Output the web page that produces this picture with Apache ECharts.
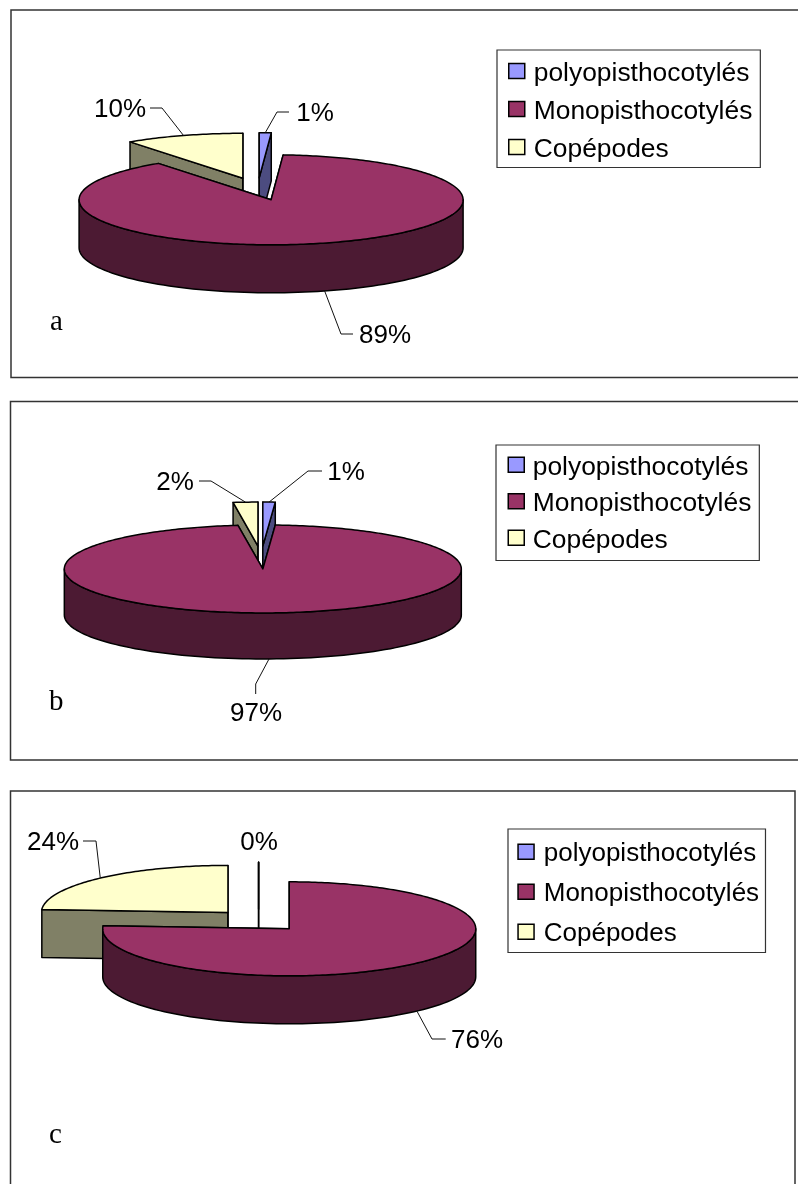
<!DOCTYPE html>
<html>
<head>
<meta charset="utf-8">
<style>html,body{margin:0;padding:0;background:#fff}#chart{width:798px;height:1184px}</style>
<script src="https://cdn.jsdelivr.net/npm/echarts@6/dist/echarts.min.js"></script>
</head>
<body>
<div id="chart"></div>
<script>
// Parasite group shares per sample (percent)
const categories = ['polyopisthocotylés', 'Monopisthocotylés', 'Copépodes'];
const valuesA = [1, 89, 10];
const valuesB = [1, 97, 2];
const valuesC = [0, 76, 24];
const panelLetters = ['a', 'b', 'c'];

const topColors = ['#9999FF', '#993366', '#FFFFCC'];
const sideColors = ['#4C4C80', '#4C1A33', '#808066'];
const INK = '#000';
const FRAME = '#333';
const LABEL_FONT = '26px "Liberation Sans", Arial, sans-serif';

// Pie geometry per panel; elbow/end give the leader line bends, text the label centre
const panels = [
  { values: valuesA, cx: 257.7, cy: 189, rx: 192, ry: 45, depth: 48, explode: 0.25,
    leaders: [
      { elbow: [277, 112], end: [289, 112], text: [315, 114] },
      { elbow: [341, 334], end: [353, 334], text: [385, 336] },
      { elbow: [162, 108], end: [150, 108], text: [120, 110] }
    ],
    legend: { left: 497, top: 50, gap: 12, textPad: 4, fontSize: 26.4, padding: [10.5, 8, 5, 11] },
    letter: [50, 322] },
  { values: valuesB, cx: 261.2, cy: 557.5, rx: 198.5, ry: 44, depth: 46, explode: 0.26,
    leaders: [
      { elbow: [308, 471], end: [322, 471], text: [346, 473] },
      { elbow: [255.7, 684], end: [255.7, 694], text: [256, 714] },
      { elbow: [211, 481], end: [199, 481], text: [175, 483] }
    ],
    legend: { left: 496, top: 445, gap: 10.5, textPad: 3.5, fontSize: 26.4, padding: [9.3, 8, 7.2, 11.5] },
    letter: [49, 702] },
  { values: valuesC, cx: 258.6, cy: 920.6, rx: 186.5, ry: 47, depth: 48, explode: 0.24,
    leaders: [
      { text: [259, 843] },
      { elbow: [432, 1039], end: [445.7, 1039], text: [477, 1041] },
      { elbow: [96, 841], end: [83, 841], text: [53, 843] }
    ],
    legend: { left: 508, top: 829, gap: 14, textPad: 4.7, fontSize: 26, padding: [12.3, 6.4, 5.2, 9.3] },
    letter: [49, 1135] }
];

const rad = d => d * Math.PI / 180;

// Point on a slice's ellipse, degrees clockwise from the top of the pie
function rim(o, deg, drop) {
  return [o[0] + o[2] * Math.sin(rad(deg)), o[1] - o[3] * Math.cos(rad(deg)) + (drop || 0)];
}

function sliceItem(panel, idx, value) {
  const total = panel.values.reduce((s, v) => s + v, 0);
  const before = panel.values.slice(0, idx).reduce((s, v) => s + v, 0);
  const start = before / total * 360;
  const end = start + value / total * 360;
  const mid = (start + end) / 2;
  const origin = [
    panel.cx + panel.explode * panel.rx * Math.sin(rad(mid)),
    panel.cy - panel.explode * panel.ry * Math.cos(rad(mid)),
    panel.rx, panel.ry
  ];
  const apex = [origin[0], origin[1]];
  const d = panel.depth;
  const lineStyle = { stroke: INK, lineWidth: 1.5, lineJoin: 'round' };
  const poly = (points, fill) => ({
    type: 'polygon', shape: { points }, style: Object.assign({ fill }, lineStyle)
  });

  const children = [];
  // Radial walls
  [start, end].forEach(a => {
    const p = rim(origin, a);
    children.push(poly([apex, p, [p[0], p[1] + d], [apex[0], apex[1] + d]], sideColors[idx]));
  });
  // Outer wall on the half facing the viewer
  const from = Math.max(start, 90), to = Math.min(end, 270);
  if (to > from) {
    const upper = [], lower = [];
    for (let a = from; a <= to + 1e-6; a += (to - from) / 90) {
      upper.push(rim(origin, a));
      lower.unshift(rim(origin, a, d));
    }
    children.push(poly(upper.concat(lower), sideColors[idx]));
  }
  // Top face
  const face = [apex];
  const steps = Math.max(2, Math.ceil(end - start));
  for (let i = 0; i <= steps; i++) face.push(rim(origin, start + (end - start) * i / steps));
  children.push(poly(face, topColors[idx]));

  // Leader line and percentage label
  const leader = panel.leaders[idx];
  if (leader.elbow) {
    const front = Math.cos(rad(mid)) < 0;
    const anchor = rim(origin, mid, front ? d : 0);
    children.push({
      type: 'polyline',
      shape: { points: [anchor, leader.elbow, leader.end] },
      style: { fill: null, stroke: '#111', lineWidth: 1 },
      z2: 5
    });
  }
  children.push({
    type: 'text', x: leader.text[0], y: leader.text[1], z2: 6,
    style: { text: value + '%', font: LABEL_FONT, fill: INK, align: 'center', verticalAlign: 'middle' }
  });
  return { type: 'group', children };
}

const series = [];
panels.forEach(panel => {
  const total = panel.values.reduce((s, v) => s + v, 0);
  // Back slices first, so the large front slice overlaps them
  const order = panel.values.map((v, i) => {
    const before = panel.values.slice(0, i).reduce((s, x) => s + x, 0);
    return { i, front: -Math.cos(rad((before + v / 2) / total * 360)) };
  }).sort((a, b) => a.front - b.front);
  order.forEach(({ i }, rank) => {
    series.push({
      type: 'custom',
      name: categories[i],
      coordinateSystem: 'none',
      z: 2 + rank,
      silent: true,
      animation: false,
      itemStyle: { color: topColors[i] },
      data: [[panel.values[i]]],
      renderItem: (params, api) => sliceItem(panel, i, api.value(0))
    });
  });
});

const legends = panels.map(p => ({
  left: p.legend.left, top: p.legend.top,
  orient: 'vertical',
  data: categories,
  selectedMode: false,
  icon: 'rect',
  itemWidth: 16, itemHeight: 15, itemGap: p.legend.gap,
  padding: p.legend.padding,
  borderColor: FRAME, borderWidth: 1.2, backgroundColor: '#fff',
  itemStyle: { borderColor: INK, borderWidth: 1.5 },
  formatter: '{t|{name}}',
  textStyle: {
    color: INK,
    rich: {
      t: {
        fontFamily: '"Liberation Sans", Arial, sans-serif',
        fontSize: p.legend.fontSize, color: INK,
        padding: [5, 0, 0, p.legend.textPad]
      }
    }
  }
}));

const frameStyle = { fill: null, stroke: FRAME, lineWidth: 1.5 };
const frame = points => ({ type: 'polyline', silent: true, shape: { points }, style: frameStyle });
const graphic = [
  frame([[798, 10], [11, 10], [11, 377.5], [798, 377.5]]),
  frame([[798, 401.5], [10.5, 401.5], [10.5, 760], [798, 760]]),
  frame([[10.5, 1184], [10.5, 791], [795, 791], [795, 1184]])
].concat(panels.map((p, i) => ({
  type: 'text', silent: true, x: p.letter[0], y: p.letter[1],
  style: { text: panelLetters[i], font: '29px "Liberation Serif", "Times New Roman", serif', fill: INK, verticalAlign: 'middle' }
})));

const chart = echarts.init(document.getElementById('chart'), null, { renderer: 'canvas' });
chart.setOption({ backgroundColor: '#fff', animation: false, legend: legends, graphic, series });
</script>
</body>
</html>
